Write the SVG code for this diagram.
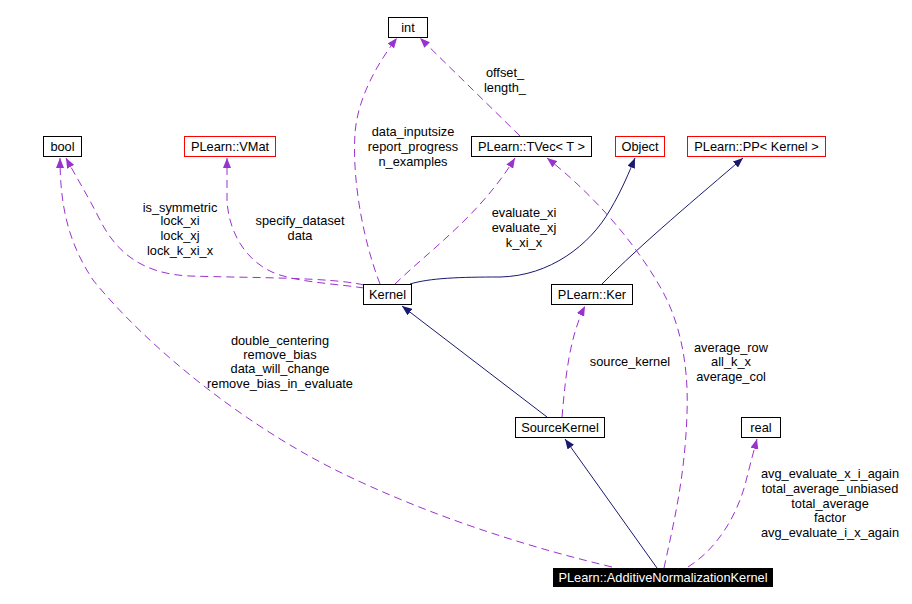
<svg xmlns="http://www.w3.org/2000/svg" width="912" height="604" viewBox="0 0 912 604">
<style>
text{font-family:"Liberation Sans",Arial,sans-serif;font-size:12.8px;fill:#000;text-anchor:middle}
.box{fill:#fff;stroke:#000;stroke-width:1}
.red{fill:#fff;stroke:#ff0000;stroke-width:1}
.dash{fill:none;stroke:#9a32cd;stroke-width:1;stroke-dasharray:8,5;marker-end:url(#pa)}
.solid{fill:none;stroke:#191970;stroke-width:1;marker-end:url(#na)}
</style>
<defs>
<marker id="pa" markerUnits="userSpaceOnUse" markerWidth="11" markerHeight="8" refX="10" refY="4" orient="auto"><path d="M0,0 L10,4 L0,8 z" fill="#9a32cd"/></marker>
<marker id="na" markerUnits="userSpaceOnUse" markerWidth="11" markerHeight="8" refX="10" refY="4" orient="auto"><path d="M0,0 L10,4 L0,8 z" fill="#191970"/></marker>
</defs>
<rect width="912" height="604" fill="#fff"/>
<g id="connectors">
<path class="dash" d="M380,284 C363,240 352,180 355,133 C358,95 380,60 397,38"/>
<path class="dash" d="M520,136 L420,38"/>
<path class="dash" d="M364,285 C330,277 250,278 190,276 C140,274 115,250 100,220 C88,196 75,175 66,158"/>
<path class="dash" d="M364,288 C330,283 290,282 268,270 C240,255 228,225 227,200 L227,158"/>
<path class="dash" d="M395,284 C430,250 480,215 515,158"/>
<path class="solid" d="M410,284 C430,278 460,277 500,277 C550,276 590,245 610,210 C622,190 630,170 635,158"/>
<path class="solid" d="M602,284 C640,245 700,195 743,158"/>
<path class="dash" d="M664,568 C672,530 685,480 687,413 C689,360 678,320 663,292 C640,250 600,200 547,158"/>
<path class="dash" d="M562,417 C565,385 568,340 585,306"/>
<path class="solid" d="M547,417 L402,306"/>
<path class="solid" d="M657,568 L565,439"/>
<path class="dash" d="M688,567 C715,550 735,520 745,485 C750,465 754,450 757,439"/>
<path class="dash" d="M612,567 C520,545 430,515 350,477 C250,430 150,350 93,280 C70,245 60,210 60,158"/>
</g>
<g id="edge-labels">
<text x="413" y="136">data_inputsize</text>
<text x="413" y="151">report_progress</text>
<text x="413" y="165.5">n_examples</text>
<text x="505" y="76.5">offset_</text>
<text x="505" y="91.5">length_</text>
<text x="180" y="211.5">is_symmetric</text>
<text x="180" y="225">lock_xi</text>
<text x="180" y="239.5">lock_xj</text>
<text x="180" y="254.5">lock_k_xi_x</text>
<text x="300" y="224.5">specify_dataset</text>
<text x="300" y="239.5">data</text>
<text x="524" y="216.5">evaluate_xi</text>
<text x="524" y="232">evaluate_xj</text>
<text x="524" y="247">k_xi_x</text>
<text x="280" y="344.5">double_centering</text>
<text x="280" y="359">remove_bias</text>
<text x="280" y="373">data_will_change</text>
<text x="280" y="387.5">remove_bias_in_evaluate</text>
<text x="630" y="365.5">source_kernel</text>
<text x="731" y="351.5">average_row</text>
<text x="731" y="365.5">all_k_x</text>
<text x="731" y="380.5">average_col</text>
<text x="830" y="477.5">avg_evaluate_x_i_again</text>
<text x="830" y="492.5">total_average_unbiased</text>
<text x="830" y="507.5">total_average</text>
<text x="830" y="521.5">factor</text>
<text x="830" y="536.5">avg_evaluate_i_x_again</text>
</g>
<g id="int"><rect class="box" x="388.5" y="17.5" width="39" height="20"/><text x="408" y="32">int</text></g>
<g id="bool"><rect class="box" x="43.5" y="136.5" width="38" height="20"/><text x="62.5" y="151">bool</text></g>
<g id="vmat"><rect class="red" x="184.5" y="136.5" width="91" height="20"/><text x="230" y="151">PLearn::VMat</text></g>
<g id="tvec"><rect class="box" x="471.5" y="136.5" width="120" height="20"/><text x="531.5" y="151">PLearn::TVec&lt; T &gt;</text></g>
<g id="object"><rect class="red" x="615.5" y="136.5" width="49" height="20"/><text x="640" y="151">Object</text></g>
<g id="pp"><rect class="red" x="687.5" y="136.5" width="138" height="20"/><text x="756.5" y="151">PLearn::PP&lt; Kernel &gt;</text></g>
<g id="kernel"><rect class="box" x="363.5" y="284.5" width="48" height="20"/><text x="387.5" y="299">Kernel</text></g>
<g id="ker"><rect class="box" x="551.5" y="284.5" width="81" height="20"/><text x="592" y="299">PLearn::Ker</text></g>
<g id="sourcekernel"><rect class="box" x="515.5" y="417.5" width="89" height="20"/><text x="560" y="432">SourceKernel</text></g>
<g id="real"><rect class="box" x="741.5" y="417.5" width="39" height="20"/><text x="761" y="432">real</text></g>
<g id="additive"><rect x="553" y="568" width="220" height="19" fill="#000"/><text x="663" y="582" style="fill:#fff">PLearn::AdditiveNormalizationKernel</text></g>
</svg>
